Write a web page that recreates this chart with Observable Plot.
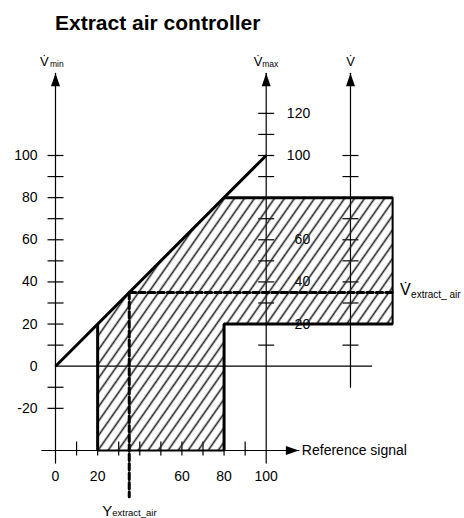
<!DOCTYPE html>
<html>
<head>
<meta charset="utf-8">
<script src="https://cdn.jsdelivr.net/npm/d3@7"></script>
<script src="https://cdn.jsdelivr.net/npm/@observablehq/plot@0.6"></script>
<style>
  html, body { margin: 0; padding: 0; background: #fff; }
  #title { height: 40px; box-sizing: border-box; padding: 11px 0 0 55px; font: bold 21px/24px "Liberation Sans", Arial, sans-serif; color: #000; }
  #chart svg { display: block; }
</style>
</head>
<body>
<div id="title">Extract air controller</div>
<div id="chart"></div>
<script>
// ---- data ----
const leftTicks = [-20, -10, 10, 20, 30, 40, 50, 60, 70, 80, 90, 100];
const leftLabels = [100, 80, 60, 40, 20, 0, -20];
const vmaxTicks = [10, 20, 30, 40, 50, 60, 70, 80, 90, 100, 110, 120];
const vmaxLabels = [120, 100, 60, 40, 20];
const vTicks = [10, 20, 30, 40, 50, 60, 70, 80, 90, 100];
const xTicks = [10, 20, 30, 40, 50, 60, 70, 80, 90];
const xLabels = [0, 20, 60, 80, 100];
// axes: position on the reference-signal axis, bottom and top extent
const axisVmin = 0, axisVmax = 100, axisV = 140;
const axisTop = 139, axisBottom = -46, vAxisBottom = -10;
const xAxisLevel = -40, xAxisStart = -6.5, xAxisEnd = 115.5;
const zeroLineEnd = 150;
// hatched operating region
const regionX = [20, 80, 80, 160];
const regionLow = [-40, -40, 20, 20];
const regionHigh = [20, 80, 80, 80];
// characteristic
const diagX = [0, 100], diagY = [0, 100];
const yMinSignal = 20, yMaxSignal = 80, vLow = 20, vHigh = 80, vEnd = 160;
// operating point
const yExtract = 35, vExtract = 35, yExtractLabelLevel = -62;

// ---- derived tables ----
const region = regionX.map((x, i) => ({x, lo: regionLow[i], hi: regionHigh[i]}));
const axisLines = [
  {id: "vmin", x: axisVmin, y: axisBottom}, {id: "vmin", x: axisVmin, y: axisTop},
  {id: "vmax", x: axisVmax, y: axisBottom}, {id: "vmax", x: axisVmax, y: axisTop},
  {id: "v", x: axisV, y: vAxisBottom}, {id: "v", x: axisV, y: axisTop},
  {id: "xa", x: xAxisStart, y: xAxisLevel}, {id: "xa", x: xAxisEnd, y: xAxisLevel},
  {id: "zero", x: axisVmin, y: 0}, {id: "zero", x: zeroLineEnd, y: 0}
];
const thick = [
  {id: "diag", x: diagX[0], y: diagY[0]}, {id: "diag", x: diagX[1], y: diagY[1]},
  {id: "l", x: yMinSignal, y: xAxisLevel}, {id: "l", x: yMinSignal, y: vLow},
  {id: "r", x: yMaxSignal, y: xAxisLevel}, {id: "r", x: yMaxSignal, y: vLow}, {id: "r", x: vEnd, y: vLow},
  {id: "t", x: yMaxSignal, y: vHigh}, {id: "t", x: vEnd, y: vHigh}
];
const medium = [
  {id: "e", x: vEnd, y: vLow}, {id: "e", x: vEnd, y: vHigh},
  {id: "b", x: yMinSignal, y: xAxisLevel}, {id: "b", x: yMaxSignal, y: xAxisLevel}
];
const dashed = [
  {id: "h", x: yExtract, y: vExtract}, {id: "h", x: vEnd, y: vExtract},
  {id: "v", x: yExtract, y: vExtract}, {id: "v", x: yExtract, y: yExtractLabelLevel}
];

// ---- symbols ----
const hTick = {draw(c) { c.moveTo(-8, 0); c.lineTo(8, 0); }};
const vTick = {draw(c) { c.moveTo(0, -9); c.lineTo(0, 5); }};
const arrowUp = {draw(c) { c.moveTo(0, 0); c.lineTo(4.5, 13); c.lineTo(-4.5, 13); c.closePath(); }};
const arrowRight = {draw(c) { c.moveTo(0, 0); c.lineTo(-13, 4.5); c.lineTo(-13, -4.5); c.closePath(); }};

const font = "'Liberation Sans', Arial, sans-serif";
const tickStyle = {stroke: "#000", strokeWidth: 1.2, fill: "none"};

const svg = Plot.plot({
  width: 464,
  height: 478,
  margin: 0,
  x: {domain: [0, 100], range: [55, 265.7], axis: null},
  y: {domain: [0, 100], range: [325.7, 115], axis: null},
  style: {fontFamily: font, fontSize: "14px", color: "#000", background: "#fff", overflow: "visible"},
  marks: [
    Plot.line(axisLines, {x: "x", y: "y", z: "id", stroke: "#000", strokeWidth: 1.2}),
    Plot.dot(leftTicks, {x: () => axisVmin, y: d => d, symbol: hTick, ...tickStyle}),
    Plot.dot(vmaxTicks, {x: () => axisVmax, y: d => d, symbol: hTick, ...tickStyle}),
    Plot.dot(vTicks, {x: () => axisV, y: d => d, symbol: hTick, ...tickStyle}),
    Plot.dot(xTicks, {x: d => d, y: () => xAxisLevel, symbol: vTick, ...tickStyle}),
    Plot.text(leftLabels, {x: () => axisVmin, y: d => d, text: d => String(d), textAnchor: "end", dx: -18, fill: "#000"}),
    Plot.text(vmaxLabels, {x: () => axisVmax, y: d => d, text: d => String(d), textAnchor: "end", dx: 44, fill: "#000"}),
    Plot.text(xLabels, {x: d => d, y: () => xAxisLevel, text: d => String(d), dy: 26, fill: "#000"}),
    Plot.areaY(region, {x: "x", y1: "lo", y2: "hi", fill: "url(#hatch)"}),
    Plot.line(medium, {x: "x", y: "y", z: "id", stroke: "#000", strokeWidth: 2}),
    Plot.line(thick, {x: "x", y: "y", z: "id", stroke: "#000", strokeWidth: 3, strokeLinejoin: "miter", strokeLinecap: "butt"}),
    Plot.line(dashed, {x: "x", y: "y", z: "id", stroke: "#000", strokeWidth: 3, strokeDasharray: "6.5,3"}),
    Plot.dot([axisVmin, axisVmax, axisV], {x: d => d, y: () => axisTop, symbol: arrowUp, fill: "#000", stroke: "none"}),
    Plot.dot([xAxisEnd], {x: d => d, y: () => xAxisLevel, symbol: arrowRight, fill: "#000", stroke: "none"}),
    Plot.text([xAxisEnd], {x: d => d, y: () => xAxisLevel, text: () => "Reference signal", textAnchor: "start", dx: 3, fill: "#000"}),
    // axis names
    Plot.text([axisVmin], {x: d => d, y: () => axisTop, text: () => "V\u0307", textAnchor: "start", lineAnchor: "bottom", dx: -15.5, dy: -7, fontSize: 13, fill: "#000"}),
    Plot.text([axisVmin], {x: d => d, y: () => axisTop, text: () => "min", textAnchor: "start", lineAnchor: "bottom", dx: -5.5, dy: -6, fontSize: 8.5, fill: "#000"}),
    Plot.text([axisVmax], {x: d => d, y: () => axisTop, text: () => "V\u0307", textAnchor: "start", lineAnchor: "bottom", dx: -12.5, dy: -7, fontSize: 13, fill: "#000"}),
    Plot.text([axisVmax], {x: d => d, y: () => axisTop, text: () => "max", textAnchor: "start", lineAnchor: "bottom", dx: -4, dy: -6, fontSize: 8.5, fill: "#000"}),
    Plot.text([axisV], {x: d => d, y: () => axisTop, text: () => "V\u0307", textAnchor: "middle", lineAnchor: "bottom", dy: -7, fontSize: 13, fill: "#000"}),
    // operating point labels
    Plot.text([vExtract], {x: () => vEnd, y: d => d, text: () => "V\u0307", textAnchor: "start", lineAnchor: "bottom", dx: 7.5, dy: 3, fontSize: 16, fill: "#000"}),
    Plot.text([vExtract], {x: () => vEnd, y: d => d, text: () => "extract_ air", textAnchor: "start", lineAnchor: "bottom", dx: 18.5, dy: 6, fontSize: 10, fill: "#000"}),
    Plot.text([yExtract], {x: d => d, y: () => yExtractLabelLevel, text: () => "Y", textAnchor: "start", lineAnchor: "bottom", dx: -27, dy: 19, fontSize: 15, fill: "#000"}),
    Plot.text([yExtract], {x: d => d, y: () => yExtractLabelLevel, text: () => "extract_air", textAnchor: "start", lineAnchor: "bottom", dx: -17, dy: 19.5, fontSize: 9.5, fill: "#000"})
  ]
});

const ns = "http://www.w3.org/2000/svg";
const defs = document.createElementNS(ns, "defs");
const pat = document.createElementNS(ns, "pattern");
pat.setAttribute("id", "hatch");
pat.setAttribute("patternUnits", "userSpaceOnUse");
pat.setAttribute("width", "8.2");
pat.setAttribute("height", "10");
pat.setAttribute("patternTransform", "rotate(35)");
const ln = document.createElementNS(ns, "line");
ln.setAttribute("x1", "4.1"); ln.setAttribute("y1", "-1");
ln.setAttribute("x2", "4.1"); ln.setAttribute("y2", "11");
ln.setAttribute("stroke", "#222"); ln.setAttribute("stroke-width", "1.6");
pat.appendChild(ln);
defs.appendChild(pat);
svg.insertBefore(defs, svg.firstChild);
document.getElementById("chart").appendChild(svg);
</script>
</body>
</html>
